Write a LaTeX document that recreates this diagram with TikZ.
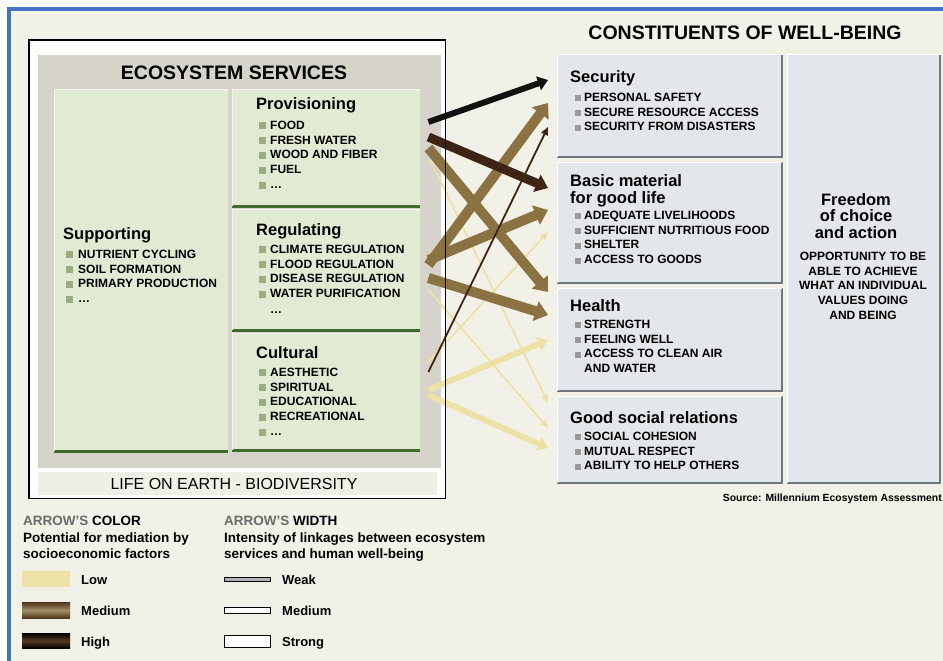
\documentclass[tikz,border=0pt]{standalone}
\usepackage{fontspec}
\setmainfont{Liberation Sans}
\usetikzlibrary{arrows.meta,calc}
\definecolor{blueb}{HTML}{4472C4}
\definecolor{cream}{HTML}{F2F1E7}
\definecolor{grayb}{HTML}{D5D3CA}
\definecolor{stripc}{HTML}{F0EFE5}
\definecolor{greenp}{HTML}{E1EBD3}
\definecolor{greenl}{HTML}{3F6B2F}
\definecolor{bulg}{HTML}{9CAB80}
\definecolor{bluep}{HTML}{E3E6EA}
\definecolor{bluel}{HTML}{6F7780}
\definecolor{bulr}{HTML}{9A9A9A}
\definecolor{alow}{HTML}{EDE2A6}
\definecolor{amed}{HTML}{8A7340}
\definecolor{ahigh}{HTML}{3E2414}
\definecolor{ablack}{HTML}{141210}
\definecolor{legg}{HTML}{6A6A6A}
\newcommand\blist[7]{%
  \foreach \t [count=\i] in {#7}{%
    \node[item, anchor=base west] (#1\i) at (#2,{#3+14.8*(\i-1)}) {\t};
    \fill[#4] ([shift={(#5,0)}]#1\i.base west) rectangle ++(#6,-#6);
  }}
\tikzset{
  item/.style={font=\bfseries\fontsize{12}{14}\selectfont, inner sep=0pt, text=black},
  head/.style={font=\bfseries\fontsize{16.5}{18}\selectfont, inner sep=0pt, text=black},
  title/.style={font=\bfseries\fontsize{19.5}{22}\selectfont, inner sep=0pt, text=black},
  leg/.style={font=\bfseries\fontsize{13.5}{16}\selectfont, inner sep=0pt, text=black},
  legl/.style={font=\bfseries\fontsize{13}{15}\selectfont, inner sep=0pt, text=black},
  box/.style={anchor=north west, inner sep=0pt, draw=none},
  gpanel/.style={box, fill=greenp},
  rpanel/.style={box, fill=bluep},
  strongarr/.style={line width=10pt, -{Triangle[length=13pt,width=20pt]}},
  medarr/.style={line width=6pt, -{Triangle[length=10pt,width=14pt]}},
  weakarr/.style={line width=1.8pt, -{Triangle[length=8pt,width=7pt]}},
}
\begin{document}
\begin{tikzpicture}[x=1pt,y=-1pt]
\useasboundingbox (0,0) rectangle (943,661);
\fill[white] (0,0) rectangle (943,661);
\fill[cream] (7,7) rectangle (943,661);
\fill[blueb] (7,7) rectangle (943,11);
\fill[blueb] (7,7) rectangle (11,661);

% ---------- ecosystem services block
\node[box, fill=white!92!cream, minimum width=416pt, minimum height=458pt] (lifebox) at (29,40) {};
\node[box, fill=grayb, minimum width=403pt, minimum height=413pt] (esbox) at (38,55) {};
\node[box, fill=stripc, minimum width=399pt, minimum height=23pt] (lifestrip) at (38,472) {};
\node[font=\fontsize{16}{18}\selectfont, inner sep=0pt, anchor=base] (lifetxt) at (234,489) {LIFE ON EARTH - BIODIVERSITY};
\node[title, anchor=base] (estitle) at (234,80) {ECOSYSTEM SERVICES};

\node[gpanel, minimum width=174pt, minimum height=361pt] (supp) at (54,90) {};
\node[gpanel, minimum width=188pt, minimum height=116pt] (prov) at (232,90) {};
\node[gpanel, minimum width=188pt, minimum height=121pt] (reg) at (232,209) {};
\node[gpanel, minimum width=188pt, minimum height=117pt] (cult) at (232,333) {};
\foreach \p in {supp,prov,reg,cult}{
  \draw[greenl, line width=2.5pt] (\p.south west) -- (\p.south east);
  \draw[white!70!grayb, line width=1pt] (\p.south west) -- (\p.north west) -- (\p.north east);
}

\node[head, anchor=base west] (supph) at (63,239) {Supporting};
\blist{su}{78}{258.3}{bulg}{-12}{7}{NUTRIENT CYCLING,SOIL FORMATION,PRIMARY PRODUCTION,{\ldots}}
\node[head, anchor=base west] (provh) at (256,110) {Provisioning};
\blist{pr}{270}{129.3}{bulg}{-11}{7}{FOOD,FRESH WATER,WOOD AND FIBER,FUEL,{\ldots}}
\node[head, anchor=base west] (regh) at (256,235) {Regulating};
\blist{re}{270}{253.3}{bulg}{-11}{7}{CLIMATE REGULATION,FLOOD REGULATION,DISEASE REGULATION,WATER PURIFICATION}
\node[item, anchor=base west] (redots) at (270,313) {\ldots};
\node[head, anchor=base west] (culth) at (256,358) {Cultural};
\blist{cu}{270}{376.3}{bulg}{-11}{7}{AESTHETIC,SPIRITUAL,EDUCATIONAL,RECREATIONAL,{\ldots}}

% ---------- constituents of well-being
\node[title, anchor=base] (cwtitle) at (745,40) {CONSTITUENTS OF WELL-BEING};
\node[rpanel, minimum width=225pt, minimum height=102pt] (sec) at (557,55) {};
\node[rpanel, minimum width=225pt, minimum height=121pt] (basic) at (557,162) {};
\node[rpanel, minimum width=225pt, minimum height=103pt] (health) at (557,288) {};
\node[rpanel, minimum width=225pt, minimum height=87pt] (soc) at (557,396) {};
\node[rpanel, minimum width=153pt, minimum height=428pt] (free) at (787,55) {};
\foreach \p in {sec,basic,health,soc,free}{
  \draw[bluel, line width=2pt] (\p.north east) -- (\p.south east) -- (\p.south west);
  \draw[white, line width=1pt] (\p.south west) -- (\p.north west) -- (\p.north east);
}

\node[head, anchor=base west] (sech) at (570,82) {Security};
\blist{se}{584}{101.3}{bulr}{-9}{6}{PERSONAL SAFETY,SECURE RESOURCE ACCESS,SECURITY FROM DISASTERS}
\node[head, anchor=base west] (basich) at (570,186) {Basic material};
\node[head, anchor=base west] (basich2) at (570,203) {for good life};
\blist{ba}{584}{219.3}{bulr}{-9}{6}{ADEQUATE LIVELIHOODS,SUFFICIENT NUTRITIOUS FOOD,SHELTER,ACCESS TO GOODS}
\node[head, anchor=base west] (healthh) at (570,311) {Health};
\blist{he}{584}{328.3}{bulr}{-9}{6}{STRENGTH,FEELING WELL,ACCESS TO CLEAN AIR}
\node[item, anchor=base west] (he4) at (584,372.7) {AND WATER};
\node[head, anchor=base west] (soch) at (570,423) {Good social relations};
\blist{so}{584}{440.3}{bulr}{-9}{6}{SOCIAL COHESION,MUTUAL RESPECT,ABILITY TO HELP OTHERS}

\foreach \t [count=\i] in {Freedom,of choice,and action}
  \node[head, anchor=base] (fh\i) at (856,{205+16.5*(\i-1)}) {\t};
\foreach \t [count=\i] in {OPPORTUNITY TO BE,ABLE TO ACHIEVE,WHAT AN INDIVIDUAL,VALUES DOING,AND BEING}
  \node[item, anchor=base] (fb\i) at (863,{260.3+14.8*(\i-1)}) {\t};

\node[font=\bfseries\fontsize{10.4}{12}\selectfont, inner sep=0pt, anchor=base east] (src) at (942,501) {Source: Millennium Ecosystem Assessment};

% ---------- arrows
\draw[weakarr, alow] ([shift={(10,70)}]prov.north east) -- ([shift={(-9,7)}]soc.north west);
\draw[weakarr, alow] ([shift={(8,81)}]reg.north east) -- ([shift={(-9,32)}]soc.north west);
\draw[weakarr, alow] ([shift={(8,29)}]cult.north east) -- ([shift={(-9,70)}]basic.north west);
\draw[medarr, alow] ([shift={(8,57)}]cult.north east) -- ([shift={(-9,52)}]health.north west);
\draw[medarr, alow] ([shift={(8,62)}]cult.north east) -- ([shift={(-9,52)}]soc.north west);
\draw[strongarr, amed] ([shift={(8,56)}]reg.north east) -- ([shift={(-9,48)}]sec.north west);
\draw[strongarr, amed] ([shift={(8,51)}]reg.north east) -- ([shift={(-9,48)}]basic.north west);
\draw[strongarr, amed] ([shift={(8,69)}]reg.north east) -- ([shift={(-9,27)}]health.north west);
\draw[strongarr, amed] ([shift={(8,58)}]prov.north east) -- ([shift={(-9,4)}]health.north west);
\draw[weakarr, ahigh] ([shift={(8,39)}]cult.north east) -- ([shift={(-9,72)}]sec.north west);
\draw[line width=9pt, -{Triangle[length=12pt,width=18pt]}, ahigh] ([shift={(8,47)}]prov.north east) -- ([shift={(-9,26)}]basic.north west);
\draw[medarr, ablack] ([shift={(8,32)}]prov.north east) -- ([shift={(-9,25)}]sec.north west);

\draw[black, line width=1.4pt] (lifebox.north west) rectangle (lifebox.south east);

% ---------- legend
\node[leg, anchor=base west] (lc1) at (23,525.5) {{\color{legg}ARROW'S} COLOR};
\node[leg, anchor=base west] (lc2) at (23,542.5) {Potential for mediation by};
\node[leg, anchor=base west] (lc3) at (23,558.5) {socioeconomic factors};
\node[leg, anchor=base west] (lw1) at (224,525.5) {{\color{legg}ARROW'S} WIDTH};
\node[leg, anchor=base west] (lw2) at (224,542.5) {Intensity of linkages between ecosystem};
\node[leg, anchor=base west] (lw3) at (224,558.5) {services and human well-being};

\node[box, fill=alow, minimum width=48pt, minimum height=16pt] (swlow) at (22,571) {};
\node[box, top color=ahigh!80!amed, bottom color=ahigh!80!amed, middle color=amed!80!white, minimum width=48pt, minimum height=16pt] (swmed) at (22,602) {};
\node[box, top color=black, bottom color=black, middle color=ahigh!70!amed, minimum width=48pt, minimum height=15pt] (swhigh) at (22,633) {};
\node[legl, anchor=base west] (llow) at (81,584) {Low};
\node[legl, anchor=base west] (lmed) at (81,615) {Medium};
\node[legl, anchor=base west] (lhigh) at (81,646) {High};

\node[box, draw=black, line width=0.8pt, fill=black!30, minimum width=46pt, minimum height=4pt] (wweak) at (224,577) {};
\node[box, draw=black, line width=0.8pt, fill=white, minimum width=46pt, minimum height=6pt] (wmed) at (224,607) {};
\node[box, draw=black, line width=0.8pt, fill=white, minimum width=46pt, minimum height=12pt] (wstrong) at (224,635) {};
\node[legl, anchor=base west] (lweak) at (282,584) {Weak};
\node[legl, anchor=base west] (lwmed) at (282,615) {Medium};
\node[legl, anchor=base west] (lstrong) at (282,646) {Strong};
\end{tikzpicture}
\end{document}
